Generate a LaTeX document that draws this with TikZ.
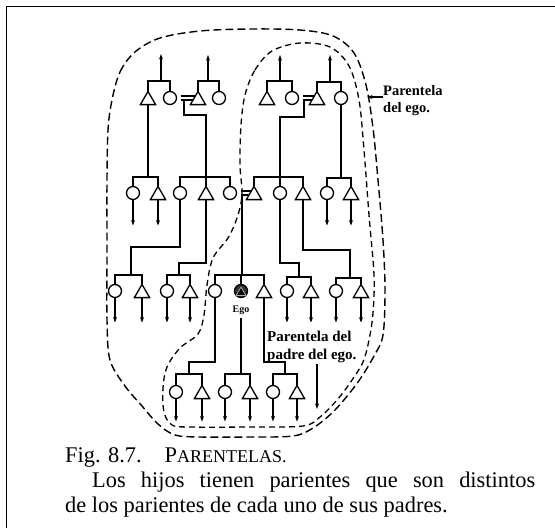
\documentclass[tikz,border=0pt]{standalone}
\usepackage{fontspec}
\setmainfont{Liberation Serif}
\usetikzlibrary{shapes.geometric,arrows.meta,calc}
\begin{document}
\begin{tikzpicture}[x=1pt,y=-1pt,
  male/.style={regular polygon, regular polygon sides=3, draw, line width=1.3pt, minimum size=17.6pt, inner sep=0pt, outer sep=0pt, yshift=-2.2pt},
  female/.style={circle, draw, line width=1.3pt, minimum size=13pt, inner sep=0pt, outer sep=0pt},
  ln/.style={line width=1.3pt},
  arr/.style={line width=1.3pt, -{Stealth[length=5.5pt,width=4pt]}},
  bar/.style={line width=1.1pt, shorten <=4pt},
  loopout/.style={line width=1.4pt, dash pattern=on 8pt off 4pt},
  loopin/.style={line width=1.3pt, dash pattern=on 6pt off 4pt},
  lab/.style={font=\fontsize{15}{18}\selectfont\bfseries, align=left, inner sep=0pt},
  captxt/.style={font=\fontsize{22.4}{25}\selectfont, inner sep=0pt, anchor=base west},
]
\useasboundingbox (0,0) rectangle (555,528);
\coordinate (fr1) at (6.5,528); \coordinate (fr2) at (6.5,6.5); \coordinate (fr3) at (555,6.5);
\draw[line width=1.5pt] (fr1) -- (fr2) -- (fr3);

% ---------- row 1 ----------
\node[male]   (A1) at (148,98) {};
\node[female] (A2) at (170,98) {};
\node[male]   (A3) at (198,98) {};
\node[female] (A4) at (219,98) {};
\node[male]   (B1) at (267,98) {};
\node[female] (B2) at (292,98) {};
\node[male]   (B3) at (317,98) {};
\node[female] (B4) at (341,98) {};

\coordinate (sA1) at (161,81);
\coordinate (sA2) at (208,81);
\coordinate (sB1) at (280,81);
\coordinate (sB2) at (330,82);
\draw[ln] (A1.north) |- (sA1) -| (A2.north);
\draw[ln] (A3.north) |- (sA2) -| (A4.north);
\draw[ln] (B1.north) |- (sB1) -| (B2.north);
\draw[ln] (B3.north) |- (sB2) -| (B4.north);
\draw[arr] (sA1) -- ++(0,-27) coordinate (tA1);
\draw[arr] (sA2) -- ++(0,-26) coordinate (tA2);
\draw[arr] (sB1) -- ++(0,-26) coordinate (tB1);
\draw[arr] (sB2) -- ++(0,-27) coordinate (tB2);

% marriages row 1
\coordinate (mAu) at (184,96); \coordinate (mA) at (184,100);
\coordinate (mBu) at (304,96); \coordinate (mB) at (304,100);
\draw[bar] (A2.east |- mAu) -- ([xshift=2pt]A3.west |- mAu);
\draw[bar] (A2.east |- mA) -- (A3.west |- mA);
\draw[bar] (B2.east |- mBu) -- ([xshift=2pt]B3.west |- mBu);
\draw[bar] (B2.east |- mB) -- (B3.west |- mB);

% ---------- row 2 ----------
\node[female] (C1) at (133,193) {};
\node[male]   (C2) at (158,193) {};
\node[female] (C3) at (180,193) {};
\node[male]   (C4) at (206,193) {};
\node[female] (C5) at (230,193) {};
\node[male]   (D1) at (254,193) {};
\node[female] (D2) at (280,193) {};
\node[male]   (D3) at (303,193) {};
\node[female] (D4) at (327,193) {};
\node[male]   (D5) at (351,193) {};

\coordinate (fA) at (148,177);
\coordinate (jA) at (206,115);
\coordinate (fB) at (206,177);
\coordinate (jB) at (280,117);
\coordinate (fD) at (280,177);
\coordinate (fE) at (341,178);
\draw[ln] (A1.south) -- (fA);
\draw[ln] (C1.north) |- (fA) -| (C2.north);
\draw[ln] (mA) |- (jA) -- (fB);
\draw[ln] (C3.north) |- (fB) -| (C5.north);
\draw[ln] (C4.north) -- (fB);
\draw[ln] (mB) |- (jB) -- (fD);
\draw[ln] (D1.north) |- (fD) -| (D3.north);
\draw[ln] (D2.north) -- (fD);
\draw[ln] (B4.south) -- (fE);
\draw[ln] (D4.north) |- (fE) -| (D5.north);

\draw[arr] (C1.south) -- ++(0,26) coordinate (dC1);
\draw[arr] (C2.south) -- ++(0,26) coordinate (dC2);
\draw[arr] (D4.south) -- ++(0,26) coordinate (dD4);
\draw[arr] (D5.south) -- ++(0,26) coordinate (dD5);

% marriage row 2
\coordinate (mCu) at (242,191); \coordinate (mC) at (242,195);
\draw[bar] (C5.east |- mCu) -- ([xshift=2pt]D1.west |- mCu);
\draw[bar] (C5.east |- mC) -- (D1.west |- mC);

% ---------- row 3 ----------
\node[female] (E1) at (115,291) {};
\node[male]   (E2) at (142,291) {};
\node[female] (E3) at (167,291) {};
\node[male]   (E4) at (190,291) {};
\node[female] (E5) at (215,291) {};
\node[female, fill=black!80] (ego) at (241,291) {};
\node[regular polygon, regular polygon sides=3, fill=black, draw=white, line width=0.4pt, minimum size=11pt, inner sep=0pt, yshift=-1.6pt] (egot) at (241,291) {};
\node[male]   (E7) at (264,291) {};
\node[female] (F1) at (287,291) {};
\node[male]   (F2) at (311,291) {};
\node[female] (F3) at (336,291) {};
\node[male]   (F4) at (361,291) {};
\node[font=\fontsize{10}{10}\selectfont\bfseries, inner sep=0pt] (egolab) at (241,310) {Ego};

\coordinate (kC3) at (131,247); \coordinate (fE1) at (131,275);
\coordinate (kC4) at (179,263); \coordinate (fE3) at (179,275);
\coordinate (fEgo) at (242,275);
\coordinate (kD2) at (299,263); \coordinate (fF1) at (299,277);
\coordinate (kD3) at (350,250); \coordinate (fF3) at (350,278);
\draw[ln] (C3.south) |- (kC3) -- (fE1);
\draw[ln] (E1.north) |- (fE1) -| (E2.north);
\draw[ln] (C4.south) |- (kC4) -- (fE3);
\draw[ln] (E3.north) |- (fE3) -| (E4.north);
\draw[ln] (mC) -- (fEgo);
\draw[ln] (E5.north) |- (fEgo) -| (E7.north);
\draw[ln] (ego.north) -- (ego.north |- fEgo);
\draw[ln] (D2.south) |- (kD2) -- (fF1);
\draw[ln] (F1.north) |- (fF1) -| (F2.north);
\draw[ln] (D3.south) |- (kD3) -- (fF3);
\draw[ln] (F3.north) |- (fF3) -| (F4.north);

\foreach \n in {E1,E2,E3,E4,F1,F2,F3,F4}
  \draw[arr] (\n.south) -- ++(0,25) coordinate (d\n);

% ---------- row 4 ----------
\node[female] (G1) at (176,392) {};
\node[male]   (G2) at (202,392) {};
\node[female] (G3) at (225,392) {};
\node[male]   (G4) at (250,392) {};
\node[female] (G5) at (273,392) {};
\node[male]   (G6) at (297,392) {};

\coordinate (kE5) at (189,362); \coordinate (fG1) at (189,374);
\coordinate (fG3) at (241,374);
\coordinate (kE7) at (285,362); \coordinate (fG5) at (285,374);
\draw[ln] (E5.south) |- (kE5) -- (fG1);
\draw[ln] (G1.north) |- (fG1) -| (G2.north);
\draw[ln] ([yshift=-3pt]egolab.south) -- (fG3);
\draw[ln] (G3.north) |- (fG3) -| (G4.north);
\draw[ln] (E7.south) |- (kE7) -- (fG5);
\draw[ln] (G5.north) |- (fG5) -| (G6.north);

\foreach \n in {G1,G2,G3,G4,G5,G6}
  \draw[arr] (\n.south) -- ++(0,23) coordinate (d\n);

% ---------- labels ----------
\node[lab, anchor=north west] (lpadre) at (267,331) {Parentela del\\padre del ego.};
\coordinate (pa1) at (317,364); \coordinate (pa2) at (317,409);
\draw[arr] (pa1) -- (pa2);

\node[lab, anchor=north west, font=\fontsize{14.5}{17}\selectfont\bfseries] (lego) at (383,85) {Parentela\\del ego.};
\coordinate (pe) at (367,97);
\draw[arr] (lego.west |- pe) -- (pe);

% ---------- dashed outlines ----------
\draw[loopout] plot[smooth cycle, tension=0.55] coordinates {
 (112,100) (120,72) (135,52) (160,38) (200,31) (250,29) (300,30) (333,36)
 (354,53) (366,85) (373,128) (378,180) (383,240) (385,290) (383,335)
 (374,356) (358,382) (335,410) (313,428) (293,436) (250,437) (200,437)
 (175,435) (158,424) (142,406) (125,386) (110,360) (107,320) (107,250)
 (107,180) (108,130)};
\draw[loopin] plot[smooth cycle, tension=0.55] coordinates {
 (245,95) (255,70) (272,51) (300,43) (330,47) (349,66) (359,100) (364,150)
 (369,215) (374,275) (373,313) (369,340) (363,362) (350,383) (337,400)
 (320,417) (303,426) (250,427) (190,427) (172,425) (164,412) (163,388)
 (167,367) (180,348) (198,334) (204,315) (207,285) (213,258) (228,238)
 (237,218) (242,195) (240,165) (241,125)};

% ---------- caption ----------
\node[captxt] (cap1) at (65,462) {Fig. 8.7.\hspace{23pt}P{\fontsize{18}{20}\selectfont ARENTELAS.}};
\node[captxt] (cap2) at (92,487) {\hbox to 443pt{Los\hfill hijos\hfill tienen\hfill parientes\hfill que\hfill son\hfill distintos}};
\node[captxt] (cap3) at (65,512) {de los parientes de cada uno de sus padres.};
\end{tikzpicture}
\end{document}
